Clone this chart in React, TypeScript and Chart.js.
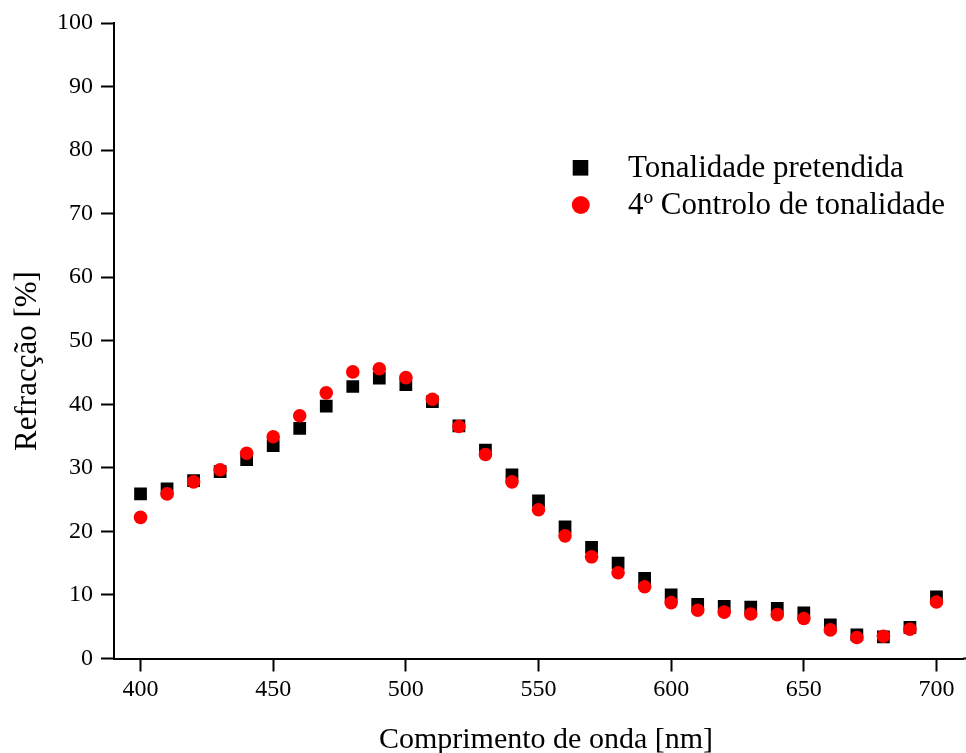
import React, { useEffect, useRef } from "react";
import { Chart, registerables } from "chart.js";

Chart.register(...registerables);

// Wavelengths (nm)
const wavelengths = [
  400, 410, 420, 430, 440, 450, 460, 470, 480, 490, 500, 510, 520, 530, 540, 550,
  560, 570, 580, 590, 600, 610, 620, 630, 640, 650, 660, 670, 680, 690, 700,
];

// Target shade reflectance (%)
const targetShade = [
  25.9, 26.7, 28.0, 29.4, 31.3, 33.5, 36.2, 39.7, 42.8, 44.1, 43.1, 40.4, 36.6, 32.8, 28.9, 24.8,
  20.7, 17.5, 15.0, 12.6, 10.0, 8.5, 8.2, 8.1, 7.9, 7.2, 5.3, 3.7, 3.4, 4.9, 9.7,
];

// 4th shade control reflectance (%)
const fourthControl = [
  22.2, 25.9, 27.8, 29.7, 32.3, 34.9, 38.2, 41.8, 45.1, 45.6, 44.2, 40.8, 36.5, 32.1, 27.8, 23.4,
  19.3, 16.0, 13.5, 11.3, 8.8, 7.6, 7.3, 7.0, 6.9, 6.3, 4.5, 3.3, 3.5, 4.6, 8.9,
];

const seriesLabels = ["Tonalidade pretendida", "4º Controlo de tonalidade"];
const xTitle = "Comprimento de onda [nm]";
const yTitle = "Refracção [%]";

const FONT = "'Liberation Serif', 'Times New Roman', serif";

const toPoints = (ys: number[]) => wavelengths.map((x, i) => ({ x, y: ys[i] }));

// Axis titles and the in-plot legend
const annotations = {
  id: "annotations",
  afterDraw(chart: any) {
    const ctx = chart.ctx as CanvasRenderingContext2D;
    ctx.save();
    ctx.fillStyle = "#000";

    // x title
    ctx.font = `30px ${FONT}`;
    ctx.textAlign = "center";
    ctx.textBaseline = "alphabetic";
    ctx.fillText(xTitle, 546, 748);

    // y title
    ctx.save();
    ctx.translate(36, 361);
    ctx.rotate(-Math.PI / 2);
    ctx.font = `31px ${FONT}`;
    ctx.fillText(yTitle, 0, 0);
    ctx.restore();

    // extend the x axis line to the right edge
    const a = chart.chartArea;
    ctx.fillRect(a.right, a.bottom - 1, chart.width - a.right, 2);

    // legend
    const ds = chart.data.datasets;
    ctx.textAlign = "left";
    ctx.font = `31px ${FONT}`;
    const rows = [
      { my: 167.8, ty: 177.3 },
      { my: 205, ty: 213.5 },
    ];
    ds.forEach((d: any, i: number) => {
      const r = rows[i];
      ctx.fillStyle = d.backgroundColor;
      if (d.pointStyle === "rect") {
        ctx.fillRect(580.5 - 7.8, r.my - 7.8, 15.6, 15.6);
      } else {
        ctx.beginPath();
        ctx.arc(580.8, r.my, 9, 0, Math.PI * 2);
        ctx.fill();
      }
      ctx.fillStyle = "#000";
      ctx.fillText(d.label, 628, r.ty);
    });
    ctx.restore();
  },
};

export default function App() {
  const ref = useRef<HTMLCanvasElement | null>(null);

  useEffect(() => {
    if (!ref.current) return;
    const chart = new Chart(ref.current, {
      type: "scatter",
      data: {
        datasets: [
          {
            label: seriesLabels[0],
            data: toPoints(targetShade),
            pointStyle: "rect",
            pointRadius: 9,
            pointHoverRadius: 9,
            borderWidth: 0,
            backgroundColor: "#000000",
            borderColor: "#000000",
            order: 1,
          },
          {
            label: seriesLabels[1],
            data: toPoints(fourthControl),
            pointStyle: "circle",
            pointRadius: 6.8,
            pointHoverRadius: 6.8,
            borderWidth: 0,
            backgroundColor: "#ff0000",
            borderColor: "#ff0000",
            order: 0,
          },
        ],
      },
      options: {
        responsive: false,
        animation: false,
        devicePixelRatio: 1,
        layout: { autoPadding: false, padding: { top: 23, right: 3, left: 0, bottom: 0 } },
        plugins: {
          legend: { display: false },
          tooltip: { enabled: false },
        },
        scales: {
          x: {
            type: "linear",
            min: 390,
            max: 710,
            afterFit: (s: any) => {
              s.height = 94.5;
              s.paddingLeft = 0;
              s.paddingRight = 0;
            },
            ticks: {
              stepSize: 50,
              includeBounds: false,
              color: "#000",
              padding: 4,
              font: { family: FONT, size: 24 },
              maxRotation: 0,
            },
            grid: {
              display: true,
              drawOnChartArea: false,
              drawTicks: true,
              tickLength: 13,
              tickWidth: 2,
              tickColor: "#000",
            },
            border: { display: true, color: "#000", width: 2 },
          },
          y: {
            type: "linear",
            min: 0,
            max: 100,
            afterFit: (s: any) => {
              s.width = 114;
            },
            ticks: {
              stepSize: 10,
              color: "#000",
              padding: 8,
              font: { family: FONT, size: 24 },
            },
            grid: {
              display: true,
              drawOnChartArea: false,
              drawTicks: true,
              tickLength: 13,
              tickWidth: 2,
              tickColor: "#000",
            },
            border: { display: true, color: "#000", width: 2 },
          },
        },
      },
      plugins: [annotations],
    });
    return () => chart.destroy();
  }, []);

  return (
    <div style={{ position: "absolute", left: 0, top: 0, width: 966, height: 753, background: "#fff" }}>
      <canvas ref={ref} width={966} height={753} style={{ display: "block" }} />
    </div>
  );
}
